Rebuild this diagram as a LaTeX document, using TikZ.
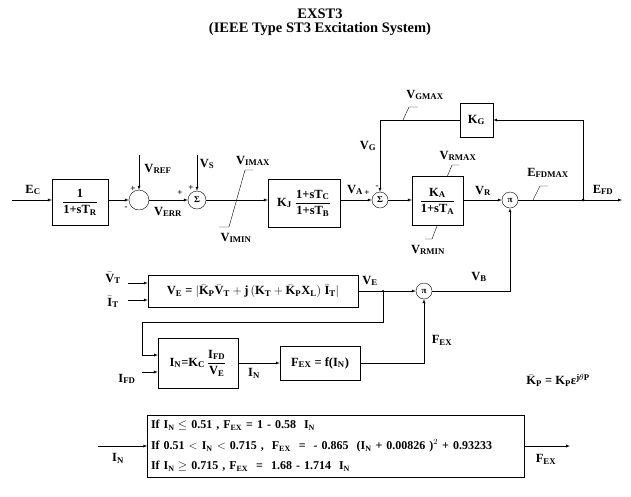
\documentclass[tikz,border=0pt]{standalone}
\usepackage{amsmath,amssymb}
\usepackage{fontspec}
\setmainfont{Liberation Serif}
\usepackage{tikz}
\usetikzlibrary{positioning,shapes,arrows}

\begin{document}
\begin{tikzpicture}[x=1pt, y=-1pt, >=latex,
  every node/.style={font=\bfseries\fontsize{12.5}{14}\selectfont, inner sep=1pt},
  block/.style={draw, rectangle, inner sep=2pt},
  sumj/.style={draw, circle, minimum size=18pt, inner sep=0pt, font=\bfseries\fontsize{9}{10}\selectfont},
  lbl/.style={draw=none, fill=none}]
\useasboundingbox (0,0) rectangle (631,496);

% title
\node[font=\bfseries\fontsize{14.5}{16}\selectfont] (t1) at (320,14) {EXST3};
\node[font=\bfseries\fontsize{14.5}{16}\selectfont] (t2) at (320,29) {(IEEE Type ST3 Excitation System)};

% forward path
\coordinate (ec) at (12,200);
\node[block, minimum width=56pt, minimum height=46pt] (tr) at (80,202) {$\dfrac{\text{1}}{\text{1+sT}_\text{R}}$};
\node[sumj, minimum size=20pt] (s1) at (139,200) {};
\coordinate (vref) at (139,155);
\node[sumj] (s2) at (197,200) {Σ};
\coordinate (vs) at (197,155);
\node[block, minimum width=72pt, minimum height=48pt] (kj) at (304,203) {K$_\text{J}$ $\dfrac{\text{1+sT}_\text{C}}{\text{1+sT}_\text{B}}$};
\node[sumj, minimum size=16pt] (s3) at (380,200) {Σ};
\node[block, minimum width=51pt, minimum height=49pt] (ka) at (437.5,201) {$\dfrac{\text{K}_\text{A}}{\text{1+sT}_\text{A}}$};
\node[sumj, minimum size=16pt] (m1) at (510,200) {π};
\coordinate (jfd) at (583,200);
\coordinate (efd) at (622,200);
\node[block, minimum width=33pt, minimum height=34pt] (kg) at (476.5,120) {K$_\text{G}$};

\draw[->] (ec) -- (ec -| tr.west);
\draw[->] (ec -| tr.east) -- (s1);
\draw[->] (vref) -- (s1);
\draw[->] (s1) -- (s2);
\draw[->] (vs) -- (s2);
\draw[->] (s2) -- (kj.west |- s2);
\draw[->] (kj.east |- s3) -- (s3);
\draw[->] (s3) -- (ka.west |- s3);
\draw[->] (ka.east |- m1) -- (m1);
\draw (m1) -- (jfd);
\draw[->] (jfd) -- (efd);
\draw[->] (jfd) |- (kg);
\draw[->] (kg) -| (s3);
\fill (jfd) circle (1.5pt);

% limits
\draw (219,227) -- (229,227) -- (245,170) -- (253,170);
\draw (447,177) -- (452,165) -- (459,165);
\draw (437,226) -- (432,239) -- (425,239);
\draw (533,200) -- (540,186) -- (548,186);
\draw (403,120) -- (409,107) -- (418,107);

% labels forward path
\node[lbl] (lec) at (33,190) {E$_\text{C}$};
\node[lbl] (lvref) at (158,169) {V$_\text{REF}$};
\node[lbl] (lverr) at (168,212) {V$_\text{ERR}$};
\node[lbl] (lvs) at (207,164) {V$_\text{S}$};
\node[lbl, font=\bfseries\fontsize{9}{10}\selectfont] (p1) at (133,189) {+};
\node[lbl, font=\bfseries\fontsize{9}{10}\selectfont] (n1) at (126,208) {-};
\node[lbl, font=\bfseries\fontsize{9}{10}\selectfont] (p2) at (180,193) {+};
\node[lbl, font=\bfseries\fontsize{9}{10}\selectfont] (p3) at (191,188) {+};
\node[lbl] (limax) at (253,161) {V$_\text{IMAX}$};
\node[lbl] (limin) at (236,238) {V$_\text{IMIN}$};
\node[lbl] (lva) at (355,190) {V$_\text{A}$};
\node[lbl, font=\bfseries\fontsize{9}{10}\selectfont] (p4) at (367,193) {+};
\node[lbl, font=\bfseries\fontsize{9}{10}\selectfont] (n4) at (377,187) {-};
\node[lbl] (lvg) at (368,146) {V$_\text{G}$};
\node[lbl] (lvgmax) at (425,95) {V$_\text{GMAX}$};
\node[lbl] (lvrmax) at (458,156) {V$_\text{RMAX}$};
\node[lbl] (lvrmin) at (428,250) {V$_\text{RMIN}$};
\node[lbl] (lvr) at (483,191) {V$_\text{R}$};
\node[lbl] (lefdmax) at (548,173) {E$_\text{FDMAX}$};
\node[lbl] (lefd) at (603,190) {E$_\text{FD}$};

% excitation source
\node[block, minimum width=210pt, minimum height=32pt] (ve) at (253,291) {V$_\text{E}$ = $\lvert\bar{\text{K}}_\text{P}\bar{\text{V}}_\text{T} + \text{j}\,(\text{K}_\text{T} + \bar{\text{K}}_\text{P}\text{X}_\text{L})\;\bar{\text{I}}_\text{T}\rvert$};
\coordinate (vt) at (128,283);
\coordinate (it) at (128,300);
\coordinate (jve) at (383,291);
\node[sumj, minimum size=16pt] (m2) at (424,291) {π};
\coordinate (fb) at (142,322);
\coordinate (inup) at (158,355);
\node[block, minimum width=80pt, minimum height=50pt, inner sep=0pt] (in) at (198,363) {I$_\text{N}$=K$_\text{C}$\,$\dfrac{\text{I}_\text{FD}}{\text{V}_\text{E}}$};
\coordinate (ifd) at (142,372);
\node[block, minimum width=80pt, minimum height=34pt, inner sep=0pt] (fex) at (320,363) {F$_\text{EX}$ = f(I$_\text{N}$)};

\draw[->] (vt) -- (vt -| ve.west);
\draw[->] (it) -- (it -| ve.west);
\draw (ve) -- (jve);
\draw[->] (jve) -- (m2);
\draw[->] (m2) -| (m1);
\draw[->] (jve) |- (fb) |- (inup);
\draw[->] (ifd) -- (ifd -| in.west);
\draw[->] (in) -- (fex);
\draw[->] (fex) -| (m2);
\fill (jve) circle (1.2pt);

\node[lbl] (lvt) at (113,278) {$\bar{\text{V}}_\text{T}$};
\node[lbl] (lit) at (113,302) {$\bar{\text{I}}_\text{T}$};
\node[lbl] (lve) at (370,281) {V$_\text{E}$};
\node[lbl] (lvb) at (479,277) {V$_\text{B}$};
\node[lbl] (lfex) at (442,340) {F$_\text{EX}$};
\node[lbl] (lifd) at (127,379) {I$_\text{FD}$};
\node[lbl] (lin) at (254,373) {I$_\text{N}$};
\node[lbl] (lkp) at (558,380) {$\bar{\text{K}}_\text{P}$ = K$_\text{P}$ε$^{\text{j}\theta\text{P}}$};

% F_EX characteristic
\node[block, minimum width=377pt, minimum height=62pt, align=left, text width=370pt, font=\bfseries\fontsize{12}{20.5}\selectfont] (fx) at (336,446) {%
If I$_\text{N}\leq$ 0.51 , F$_\text{EX}$ = 1 - 0.58 \ I$_\text{N}$\\
If 0.51 $<$ I$_\text{N}$ $<$ 0.715 , \ F$_\text{EX}$ \ = \ - 0.865 \ (I$_\text{N}$ + 0.00826 )$^2$ + 0.93233\\
If I$_\text{N}\geq$ 0.715 , F$_\text{EX}$ \ = \ 1.68 - 1.714 \ I$_\text{N}$};
\coordinate (bin) at (98,446);
\coordinate (bout) at (570,446);
\draw[->] (bin) -- (fx);
\draw[->] (fx) -- (bout);
\node[lbl] (lbin) at (118,458) {I$_\text{N}$};
\node[lbl] (lbout) at (546,459) {F$_\text{EX}$};
\end{tikzpicture}
\end{document}
